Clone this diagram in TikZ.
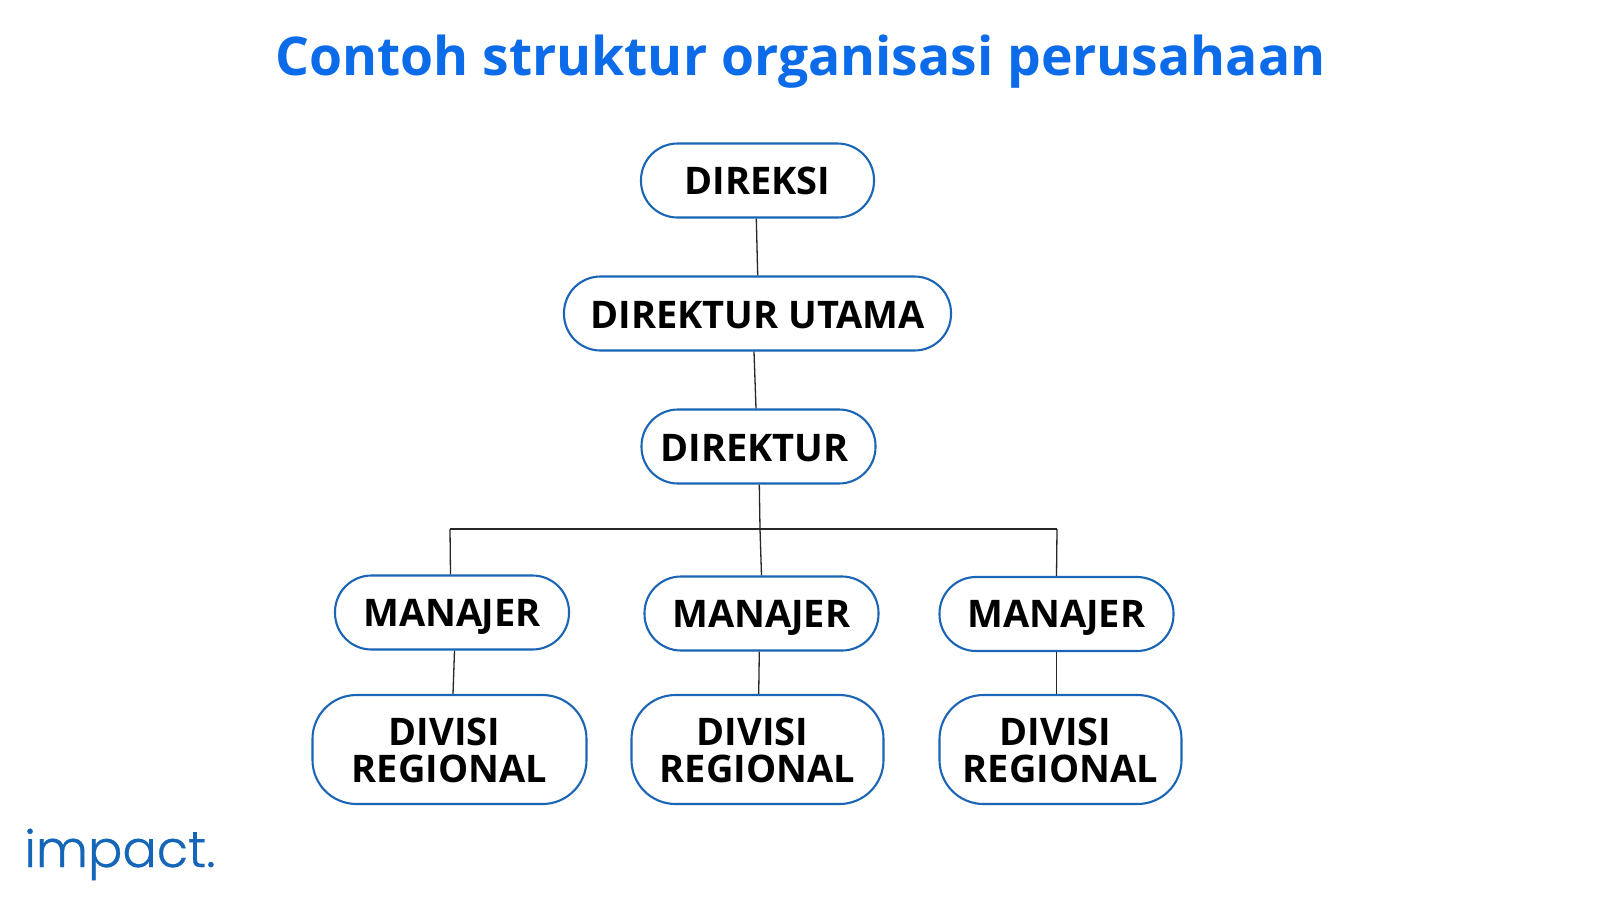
\documentclass[tikz,border=0pt]{standalone}
\usepackage{fontspec}
\setmainfont{Open Sans}
\newfontfamily\logofont{Poppins Light}[AutoFakeBold=0.6]
\definecolor{titleblue}{HTML}{0B6BE8}
\definecolor{boxblue}{HTML}{1A65B5}
\definecolor{logoblue}{HTML}{1565B8}
\newcommand{\manajer}{MANA\kern-0.5pt\smash{J}ER}
\newcommand{\capsdown}{\rule{0pt}{29.5pt}}
\tikzset{
  orgbox/.style={draw=boxblue,line width=2.1pt,fill=white,rounded corners=36.5pt,inner sep=0pt,minimum height=74pt,text=black,font=\fontsize{38}{37}\selectfont\bfseries,align=center},
  divbox/.style={orgbox,rounded corners=44pt,minimum height=109pt},
  link/.style={draw=black!85,line width=1.3pt},
}
\begin{document}
\begin{tikzpicture}[x=1pt,y=-1pt]
\useasboundingbox (0,0) rectangle (1600,900);
\fill[white] (0,0) rectangle (1600,900);
\node[font=\fontsize{53.4}{55}\selectfont\bfseries,text=titleblue] (title) at (800.5,62) {Contoh struktur organisasi perusahaan};
\node[orgbox,minimum width=233pt] (direksi) at (757.5,180.5) {DIREKSI};
\node[orgbox,minimum width=387pt] (utama) at (757.5,313.5) {\capsdown DIREKTUR UTAMA};
\node[orgbox,minimum width=234pt] (direktur) at (758.5,446.5) {\capsdown\hspace*{-8pt}DIREKTUR};
\node[orgbox,minimum width=234pt] (m1) at (452,612.5) {\manajer};
\node[orgbox,minimum width=234pt] (m2) at (761.5,613.5) {\manajer};
\node[orgbox,minimum width=234pt] (m3) at (1056.5,614) {\manajer};
\node[divbox,minimum width=274pt] (d1) at (449.5,749.5) {\capsdown\hspace*{-10pt}DIVISI\\REGIONAL};
\node[divbox,minimum width=252pt] (d2) at (757.5,749.5) {\capsdown\hspace*{-10pt}DIVISI\\REGIONAL};
\node[divbox,minimum width=242pt] (d3) at (1060.5,749.5) {\capsdown\hspace*{-10pt}DIVISI\\REGIONAL};
\coordinate (busl) at (450,529);
\coordinate (busm) at (760,529);
\coordinate (busr) at (1057,529);
\draw[link] ([xshift=-1.2pt]direksi.south) -- ([xshift=0.2pt]utama.north);
\draw[link] ([xshift=-3.5pt]utama.south) -- ([xshift=-2.5pt]direktur.north);
\draw[link] ([xshift=0.8pt]direktur.south) -- (busm) -- (m2.north);
\draw[link] (busl) -- (busr);
\draw[link] (busl) -- ([xshift=-1.5pt]m1.north);
\draw[link] (busr) -- (m3.north);
\draw[link] ([xshift=2.5pt]m1.south) -- ([xshift=3.5pt]d1.north);
\draw[link] ([xshift=-2.2pt]m2.south) -- ([xshift=1.2pt]d2.north);
\draw[link] (m3.south) -- ([xshift=-4pt]d3.north);
\node[font=\logofont\bfseries\fontsize{51}{53}\selectfont,text=logoblue,anchor=base west,inner sep=0pt] (logo) at (24,867) {impact.};
\end{tikzpicture}
\end{document}
